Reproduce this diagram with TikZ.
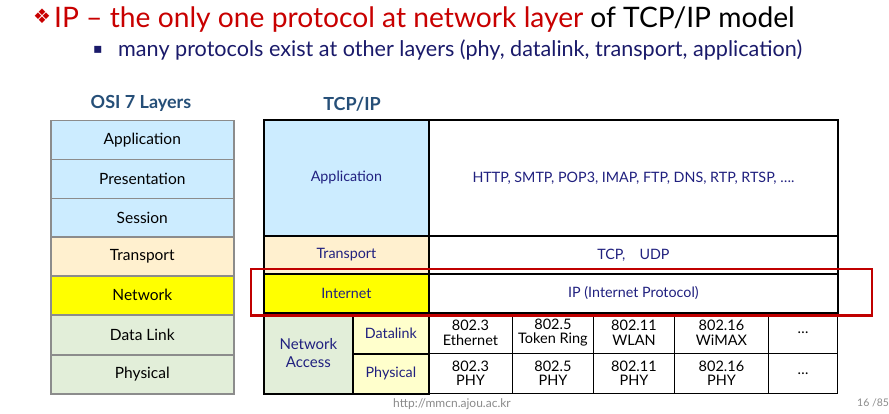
\documentclass[tikz,border=0pt]{standalone}
\usepackage{fontspec}
\setmainfont{Lato}
\newfontfamily\symfont{DejaVu Sans}
\definecolor{osiblue}{HTML}{CCECFF}
\definecolor{osipeach}{HTML}{FFF0CF}
\definecolor{osiyellow}{HTML}{FFFF00}
\definecolor{osigreen}{HTML}{E2EED9}
\definecolor{paleyellow}{HTML}{FFFFCC}
\definecolor{osigray}{HTML}{8C8C8C}
\definecolor{navy}{HTML}{20207F}
\definecolor{titleblue}{HTML}{264F78}
\definecolor{hdrred}{HTML}{C80000}
\definecolor{boxred}{HTML}{C00000}
\definecolor{subnavy}{HTML}{1A1A6A}
\definecolor{footgray}{HTML}{8A8A8A}
\begin{document}
\begin{tikzpicture}[x=1pt,y=-1pt,
  osi/.style={draw=osigray, line width=1.6pt, minimum width=183pt, minimum height=39pt,
    anchor=north west, inner sep=0pt, font=\fontsize{15.5}{17}\selectfont},
  tbl/.style={draw=black, line width=1.8pt, anchor=north west, inner sep=0pt, text=navy,
    align=center, font=\fontsize{14.3}{16}\selectfont},
  pcell/.style={draw=black, line width=0.9pt, anchor=north west, inner sep=0pt, align=center,
    minimum height=40.5pt, font=\fontsize{14.5}{14.5}\selectfont},
  ttl/.style={text=titleblue, font=\bfseries\fontsize{18}{20}\selectfont},
  foot/.style={text=footgray, font=\fontsize{12}{14}\selectfont}]
\useasboundingbox (0,0) rectangle (889,413);
% header
\node[anchor=base west, inner sep=0pt, text=hdrred, font=\symfont\fontsize{20}{22}\selectfont] (b1) at (33,23.5) {❖};
\node[anchor=base west, inner sep=0pt, font=\fontsize{28.2}{30}\selectfont] (h1) at (54,27)
  {\textcolor{hdrred}{IP -- the only one protocol at network layer} of TCP/IP model};
\node[anchor=base west, inner sep=0pt, text=subnavy, font=\symfont\fontsize{14}{16}\selectfont] (b2) at (93,53) {▪};
\node[anchor=base west, inner sep=0pt, text=subnavy, font=\fontsize{21.6}{24}\selectfont] (h2) at (118,56)
  {many protocols exist at other layers (phy, datalink, transport, application)};
% titles
\node[ttl] (t1) at (141,103) {OSI 7 Layers};
\node[ttl] (t2) at (352,104) {TCP/IP};
% OSI layers
\node[osi, fill=osiblue]   (o1) at (50,119.5) {Application};
\node[osi, fill=osiblue]   (o2) at (50,158.5) {Presentation};
\node[osi, fill=osiblue]   (o3) at (50,197.5) {Session};
\node[osi, fill=osipeach]  (o4) at (50,236) {Transport};
\node[osi, fill=osiyellow] (o5) at (50,275) {Network};
\node[osi, fill=osigreen]  (o6) at (50,314.5) {Data Link};
\node[osi, fill=osigreen]  (o7) at (50,354) {Physical};
% TCP/IP upper table
\node[tbl, fill=osiblue, minimum width=165pt, minimum height=116pt] (a1) at (263,119) {Application};
\node[tbl, fill=white, minimum width=409pt, minimum height=116pt] (a2) at (428,119) {HTTP, SMTP, POP3, IMAP, FTP, DNS, RTP, RTSP, \dots.};
\node[tbl, fill=osipeach, minimum width=165pt, minimum height=38pt] (tr1) at (263,235) {Transport};
\node[tbl, fill=white, minimum width=409pt, minimum height=38pt] (tr2) at (428,235) {TCP,\quad UDP};
\node[tbl, fill=osiyellow, minimum width=165pt, minimum height=39pt] (in1) at (263,273) {Internet};
\node[tbl, fill=white, minimum width=409pt, minimum height=39pt] (in2) at (428,273) {IP (Internet Protocol)};
% lower table
\node[tbl, fill=osigreen, minimum width=89pt, minimum height=81pt, font=\fontsize{15}{18}\selectfont] (na) at (263,312) {Network\\Access};
\node[tbl, fill=paleyellow, minimum width=76pt, minimum height=41pt] (dl) at (352,312) {Datalink};
\node[tbl, fill=paleyellow, minimum width=76pt, minimum height=40pt] (ph) at (352,353) {Physical};
% protocol cells
\node[pcell, minimum width=84pt] (p1) at (428,312) {802.3\\Ethernet};
\node[pcell, minimum width=81pt] (p2) at (512,312) {802.5\\Token Ring};
\node[pcell, minimum width=81pt] (p3) at (593,312) {802.11\\WLAN};
\node[pcell, minimum width=94pt] (p4) at (674,312) {802.16\\WiMAX};
\node[pcell, minimum width=69pt] (p5) at (768,312) {\dots};
\node[pcell, minimum width=84pt] (q1) at (428,352.5) {802.3\\PHY};
\node[pcell, minimum width=81pt] (q2) at (512,352.5) {802.5\\PHY};
\node[pcell, minimum width=81pt] (q3) at (593,352.5) {802.11\\PHY};
\node[pcell, minimum width=94pt] (q4) at (674,352.5) {802.16\\PHY};
\node[pcell, minimum width=69pt] (q5) at (768,352.5) {\dots};
% red highlight
\draw[boxred, line width=2.6pt] (251,269) rectangle (872,315.5);
% footer
\node[foot] (f1) at (452,404) {http://mmcn.ajou.ac.kr};
\node[foot, anchor=west, inner sep=0pt, font=\fontsize{10.5}{12}\selectfont] (f2) at (857,403) {16 /85};
\end{tikzpicture}
\end{document}
